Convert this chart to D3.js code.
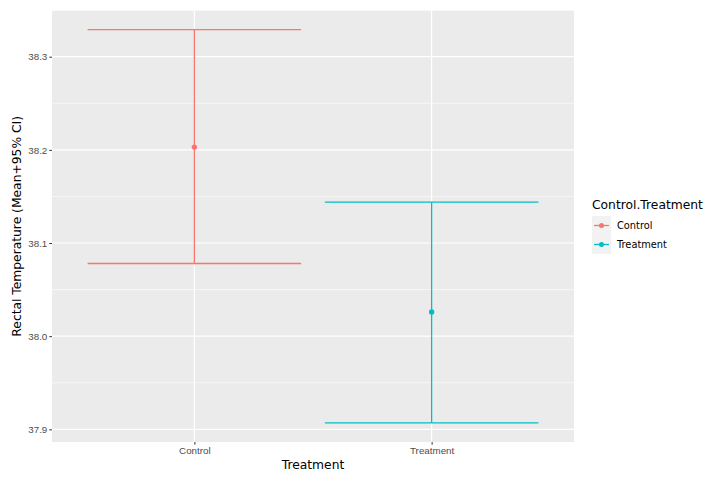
<!DOCTYPE html>
<html>
<head>
  <script src="https://d3js.org/d3.v7.min.js"></script>
  <style>
    body { margin: 0; background: #fff; }
    svg { font-family: "DejaVu Sans", sans-serif; }
  </style>
</head>
<body>
<div id="chart"></div>
<script>
  // data
  var groups = ["Control", "Treatment"];
  var means = [38.203, 38.026];
  var lowers = [38.078, 37.907];
  var uppers = [38.329, 38.144];
  var colors = ["#F8766D", "#00BFC4"];
  var yTicks = [37.9, 38.0, 38.1, 38.2, 38.3];
  var yMinor = [37.95, 38.05, 38.15, 38.25];

  var W = 709, H = 481;
  var panel = { left: 52, right: 574, top: 10.7, bottom: 442 };

  var svg = d3.select("#chart").append("svg")
    .attr("width", W).attr("height", H);

  // discrete scale with ggplot's 0.6 expansion: units 0.4..2.6
  var unit = (panel.right - panel.left) / 2.2;
  var x = d3.scalePoint()
    .domain(groups)
    .range([panel.left + 0.6 * unit, panel.left + 1.6 * unit])
    .padding(0);

  var y = d3.scaleLinear()
    .domain([37.8864, 38.3494])
    .range([panel.bottom, panel.top]);

  svg.append("rect")
    .attr("x", panel.left).attr("y", panel.top)
    .attr("width", panel.right - panel.left)
    .attr("height", panel.bottom - panel.top)
    .attr("fill", "#EBEBEB");

  // minor grid
  svg.selectAll(".minor").data(yMinor).enter().append("line")
    .attr("x1", panel.left).attr("x2", panel.right)
    .attr("y1", function (d) { return y(d); }).attr("y2", function (d) { return y(d); })
    .attr("stroke", "#fff").attr("stroke-width", 0.6);

  // major grid
  svg.selectAll(".major").data(yTicks).enter().append("line")
    .attr("x1", panel.left).attr("x2", panel.right)
    .attr("y1", function (d) { return y(d); }).attr("y2", function (d) { return y(d); })
    .attr("stroke", "#fff").attr("stroke-width", 1.2);

  svg.selectAll(".vgrid").data(groups).enter().append("line")
    .attr("x1", function (d) { return x(d); }).attr("x2", function (d) { return x(d); })
    .attr("y1", panel.top).attr("y2", panel.bottom)
    .attr("stroke", "#fff").attr("stroke-width", 1.2);

  // error bars
  var half = 0.45 * unit;
  groups.forEach(function (g, i) {
    var cx = x(g), c = colors[i];
    var gg = svg.append("g").attr("stroke", c).attr("stroke-width", 1.3);
    gg.append("line").attr("x1", cx).attr("x2", cx)
      .attr("y1", y(lowers[i])).attr("y2", y(uppers[i]));
    gg.append("line").attr("x1", cx - half).attr("x2", cx + half)
      .attr("y1", y(uppers[i])).attr("y2", y(uppers[i]));
    gg.append("line").attr("x1", cx - half).attr("x2", cx + half)
      .attr("y1", y(lowers[i])).attr("y2", y(lowers[i]));
    svg.append("circle").attr("cx", cx).attr("cy", y(means[i]))
      .attr("r", 2.7).attr("fill", c);
  });

  // y axis
  var yAxis = svg.append("g")
    .attr("transform", "translate(" + panel.left + ",0)")
    .call(d3.axisLeft(y).tickValues(yTicks).tickSize(2.7).tickPadding(2)
      .tickFormat(d3.format(".1f")));
  yAxis.select(".domain").remove();
  yAxis.selectAll("line").attr("stroke", "#333");
  yAxis.selectAll("text").attr("fill", "#4D4D4D").style("font-size", "9.8px");

  // x axis
  var xAxis = svg.append("g")
    .attr("transform", "translate(0," + panel.bottom + ")")
    .call(d3.axisBottom(x).tickSize(2.7).tickPadding(2));
  xAxis.select(".domain").remove();
  xAxis.selectAll("line").attr("stroke", "#333");
  xAxis.selectAll("text").attr("fill", "#4D4D4D").style("font-size", "9.8px");

  // axis titles
  svg.append("text")
    .attr("x", (panel.left + panel.right) / 2).attr("y", 469)
    .attr("text-anchor", "middle").style("font-size", "12.3px").attr("fill", "#000")
    .text("Treatment");
  svg.append("text")
    .attr("transform", "translate(21," + (panel.top + panel.bottom) / 2 + ") rotate(-90)")
    .attr("text-anchor", "middle").style("font-size", "12.3px").attr("fill", "#000")
    .text("Rectal Temperature (Mean+95% CI)");

  // legend
  var lg = svg.append("g").attr("transform", "translate(592,0)");
  lg.append("text").attr("x", 0).attr("y", 209)
    .style("font-size", "12.3px").attr("fill", "#000").text("Control.Treatment");
  groups.forEach(function (g, i) {
    var top = 216 + i * 19;
    lg.append("rect").attr("x", 0).attr("y", top).attr("width", 19).attr("height", 19)
      .attr("fill", "#F2F2F2");
    lg.append("line").attr("x1", 2).attr("x2", 17)
      .attr("y1", top + 9.5).attr("y2", top + 9.5)
      .attr("stroke", colors[i]).attr("stroke-width", 1.3);
    lg.append("circle").attr("cx", 9.5).attr("cy", top + 9.5).attr("r", 2.5)
      .attr("fill", colors[i]);
    lg.append("text").attr("x", 25).attr("y", top + 13)
      .style("font-size", "9.8px").attr("fill", "#000").text(g);
  });
</script>
</body>
</html>
